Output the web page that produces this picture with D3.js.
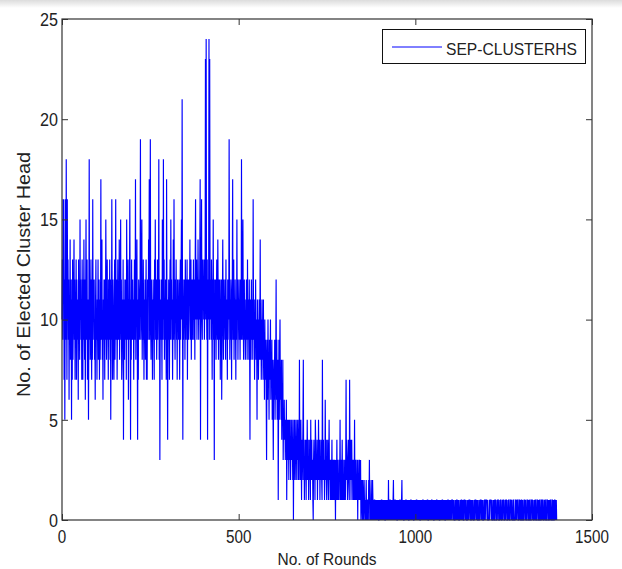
<!DOCTYPE html>
<html>
<head>
<meta charset="utf-8">
<script src="https://cdnjs.cloudflare.com/ajax/libs/d3/7.8.5/d3.min.js"></script>
<style>
  body { margin: 0; background: #fff; }
  svg { display: block; font-family: "Liberation Sans", Arial, sans-serif; }
</style>
</head>
<body>
<div id="chart"></div>
<script>
// elected cluster heads per round (one block per 100 rounds)
var heads000 = [10,13,9,16,11,16,7,12,5,11, 16,9,18,11,7,16,10,13,9,12, 6,11,9,14,8,10,12,5,11,7, 13,8,10,11,14,9,12,7,11,10,
  13,7,12,9,11,10,6,13,9,11, 8,15,10,12,9,11,7,13,10,7, 12,9,14,10,8,12,6,11,15,9, 10,13,7,11,9,5,10,18,9,12,
  8,11,13,9,7,12,8,16,10,11, 9,12,8,10,6,11,13,9,10,7];
var heads100 = [11,9,13,8,10,12,7,11,8,10, 17,9,11,14,8,10,6,11,9,12, 10,7,12,9,15,11,8,10,13,9, 11,7,12,10,9,13,8,12,5,10,
  9,16,11,7,12,10,9,7,11,13, 8,10,16,9,11,12,7,10,13,9, 11,9,14,8,10,11,15,9,12,7, 8,11,9,13,4,10,11,8,12,9,
  10,12,7,15,11,9,10,13,6,11, 9,12,16,10,4,11,8,13,9,10];
var heads200 = [12,9,11,7,10,13,9,11,17,8, 11,10,14,9,4,11,7,12,10,9, 11,12,19,9,10,12,15,8,11,9, 13,10,7,11,9,12,8,10,13,7,
  11,7,12,10,9,14,12,17,9,13, 19,10,8,12,9,11,7,10,12,9, 11,7,13,10,15,9,11,12,8,10, 13,9,11,10,18,8,12,3,10,11,
  9,12,10,7,15,11,9,18,10,13, 8,11,9,12,10,7,17,11,9,4];
var heads300 = [11,9,12,10,7,11,13,9,15,10, 12,9,11,7,10,14,9,16,11,10, 8,12,10,13,9,11,7,12,10,11, 9,12,10,7,11,13,9,12,15,10,
  21,11,4,12,9,11,10,12,8,13, 11,9,12,10,13,7,11,12,9,10, 12,11,14,9,10,13,8,12,11,9, 12,10,13,9,11,12,8,13,16,10,
  11,13,9,12,10,14,11,9,12,10, 13,17,4,11,12,16,10,9,13,11];
var heads400 = [12,10,13,9,11,12,23,10,24,11, 9,13,4,12,10,11,24,9,23,12, 10,12,9,13,11,7,12,10,15,9, 11,3,12,10,9,12,8,11,13,10,
  9,14,11,8,12,10,9,12,7,11, 10,12,6,9,11,14,10,8,12,9, 11,10,12,8,13,9,11,10,7,12, 9,11,10,19,12,8,11,9,12,10,
  7,11,12,17,9,10,13,8,11,9, 12,10,7,11,9,15,10,12,8,11];
var heads500 = [10,12,9,11,8,12,10,9,18,11, 9,12,15,10,8,11,12,9,10,8, 11,9,12,10,8,13,9,11,10,8, 12,9,4,11,10,8,12,9,10,11,
  8,16,10,9,11,7,10,9,12,8, 10,9,5,11,8,10,7,9,11,8, 9,14,8,10,7,9,11,8,10,7, 11,8,9,6,10,8,7,9,6,3,
  8,9,6,10,7,8,5,9,7,8, 10,6,8,7,9,5,8,6,3,7];
var heads600 = [8,6,9,5,7,8,12,6,9,5, 7,8,1,6,9,5,8,10,6,7, 5,8,4,6,5,8,3,5,4,6, 4,5,3,5,4,6,1,4,5,3,
  5,4,2,5,3,4,5,2,4,3, 5,3,4,2,5,0,4,3,5,2, 4,3,5,2,4,3,5,4,2,3, 5,2,8,3,4,2,5,3,1,4,
  2,3,5,8,2,4,1,3,2,4, 3,1,4,2,5,3,2,4,1,3];
var heads700 = [2,4,3,1,5,2,3,4,2,3, 1,0,3,4,2,3,1,5,4,2, 3,2,4,1,3,2,5,3,2,4, 1,3,2,4,3,2,1,8,3,2,
  4,2,3,1,2,6,3,2,4,1, 3,2,4,2,1,3,5,2,3,1, 2,3,1,2,4,1,3,2,1,3, 2,1,3,2,0,3,1,2,4,1,
  2,3,1,2,1,3,2,5,1,2, 3,1,2,4,1,2,3,1,2,1];
var heads800 = [3,2,1,3,7,2,4,3,1,2, 3,4,2,1,7,3,2,4,1,3, 4,2,3,1,2,3,1,2,5,1, 2,3,1,2,1,3,2,0,3,1,
  2,1,3,2,1,3,0,1,2,1, 0,2,1,0,1,2,1,0,1,0, 1,2,0,1,0,1,1,0,2,1, 3,0,1,0,1,2,0,1,0,2,
  1,0,1,0,1,1,0,1,0,1, 0,1,0,1,0,1,0,0,1,0];
var heads900 = [1,0,1,0,1,1,0,1,0,1, 0,1,0,1,0,0,1,0,1,0, 1,0,1,0,2,0,1,0,1,1, 0,1,0,1,0,1,0,1,2,0,
  1,0,1,1,0,1,0,1,0,0, 1,0,1,0,1,0,1,1,0,1, 0,1,2,0,1,0,1,0,0,1, 0,1,0,1,1,0,1,0,1,0,
  1,0,0,1,0,1,0,1,1,0, 1,0,1,0,1,0,0,1,0,1];
var heads1000 = [0,1,0,1,1,0,1,0,1,0, 1,0,1,0,0,1,0,1,0,1, 0,1,1,0,1,0,1,0,1,0, 1,0,1,0,1,1,0,0,1,0,
  1,0,1,0,1,0,1,1,0,1, 0,1,0,0,1,0,1,0,1,0, 1,1,0,1,0,1,0,1,0,0, 1,0,1,0,1,0,1,1,0,1,
  0,1,0,1,0,0,1,0,1,0, 1,0,1,1,0,1,0,1,0,1];
var heads1100 = [0,1,0,1,1,1,0,1,0,1, 0,0,0,1,0,1,0,1,1,0, 1,0,1,0,0,0,1,0,1,0, 1,1,0,1,0,1,0,0,1,1,
  1,0,1,0,1,0,0,0,1,0, 1,0,1,1,1,0,1,0,0,1, 0,1,0,1,0,0,0,1,0,1, 1,1,0,1,0,1,0,0,1,0,
  0,0,1,0,1,1,1,0,1,0, 1,0,0,0,1,0,1,1,0,1];
var heads1200 = [1,1,1,0,1,0,0,0,0,1, 0,1,1,1,1,0,1,0,0,0, 1,0,1,0,0,1,1,1,0,0, 0,1,0,1,1,1,0,0,0,1,
  0,1,1,0,0,0,1,0,1,1, 1,0,0,0,1,0,1,1,1,0, 0,0,1,0,1,1,0,0,0,1, 1,1,0,1,0,0,0,1,1,0,
  0,0,0,1,1,0,1,0,1,1, 1,0,0,0,1,1,0,1,0,0];
var heads1300 = [1,1,0,0,1,0,0,0,1,1, 1,0,1,0,0,0,1,1,1,0, 0,1,0,0,1,1,0,0,0,1, 1,1,0,1,0,0,0,1,0,1,
  1,0,0,0,1,1,1,0,0,1, 0,0,1,1,0,0,0,1,1,0, 1,1,0,0,0,1,0,1,1,0, 0,0,1,1,1,0,0,1,0,0,
  1,0,1,1,0,0,0,1,1,0, 0,1,0,0,1,1,0,1,0,1, 0];

var xTicks = [0, 500, 1000, 1500];
var yTicks = [0, 5, 10, 15, 20, 25];
var seriesName = "SEP-CLUSTERHS";
var xTitle = "No. of Rounds";
var yTitle = "No. of Elected Cluster Head";

var heads = [].concat(heads000, heads100, heads200, heads300, heads400, heads500, heads600,
  heads700, heads800, heads900, heads1000, heads1100, heads1200, heads1300);
var data = heads.map(function(v, i) {
  return { round: i, value: v };
});

var W = 622, H = 569;
var margin = { top: 19, right: 30, bottom: 49, left: 62 },
  width = W - margin.left - margin.right,
  height = H - margin.top - margin.bottom;
var ink = "#222";

var svg = d3.select("#chart").append("svg")
  .attr("width", W)
  .attr("height", H);

// faint grey smear along the top edge of the scan
var grad = svg.append("defs").append("linearGradient")
  .attr("id", "topfade").attr("x1", 0).attr("y1", 0).attr("x2", 0).attr("y2", 1);
grad.append("stop").attr("offset", "0%").attr("stop-color", "#dcdcdc");
grad.append("stop").attr("offset", "100%").attr("stop-color", "#ffffff");
svg.append("rect").attr("width", W).attr("height", 8).attr("fill", "url(#topfade)");

var g = svg.append("g")
  .attr("transform", "translate(" + margin.left + "," + margin.top + ")");

var x = d3.scaleLinear().domain([0, 1500]).range([0, width]);
var y = d3.scaleLinear().domain([0, 25]).range([height, 0]);

var line = d3.line()
  .x(function(d) { return x(d.round); })
  .y(function(d) { return y(d.value); });

g.append("path")
  .datum(data)
  .attr("d", line)
  .attr("fill", "none")
  .attr("stroke", "#0000ff")
  .attr("stroke-width", 1.15);

// inward ticks on all four sides, matlab style
function ticksOnly(sel) {
  sel.select(".domain").remove();
  sel.selectAll("line").attr("stroke", "#333");
  sel.selectAll("text").remove();
}
g.append("g").attr("transform", "translate(0," + height + ")")
  .call(d3.axisBottom(x).tickValues(xTicks).tickSizeInner(-6).tickSizeOuter(0)).call(ticksOnly);
g.append("g")
  .call(d3.axisTop(x).tickValues(xTicks).tickSizeInner(-6).tickSizeOuter(0)).call(ticksOnly);
g.append("g")
  .call(d3.axisLeft(y).tickValues(yTicks).tickSizeInner(-6).tickSizeOuter(0)).call(ticksOnly);
g.append("g").attr("transform", "translate(" + width + ",0)")
  .call(d3.axisRight(y).tickValues(yTicks).tickSizeInner(-6).tickSizeOuter(0)).call(ticksOnly);

g.append("rect")
  .attr("width", width)
  .attr("height", height)
  .attr("fill", "none")
  .attr("stroke", "#333")
  .attr("stroke-width", 1.2);

// tick labels, a bit narrow like the original
g.selectAll("text.xtick")
  .data(xTicks).enter()
  .append("text")
  .attr("class", "xtick")
  .attr("transform", function(d) { return "translate(" + x(d) + "," + (height + 23) + ") scale(0.8,1)"; })
  .attr("text-anchor", "middle")
  .attr("font-size", 19)
  .attr("fill", ink)
  .text(function(d) { return d; });

g.selectAll("text.ytick")
  .data(yTicks).enter()
  .append("text")
  .attr("class", "ytick")
  .attr("transform", function(d) { return "translate(-4," + y(d) + ") scale(0.85,1)"; })
  .attr("text-anchor", "end")
  .attr("dy", "0.36em")
  .attr("font-size", 19)
  .attr("fill", ink)
  .text(function(d) { return d; });

svg.append("text")
  .attr("x", margin.left + width / 2)
  .attr("y", 565)
  .attr("text-anchor", "middle")
  .attr("font-size", 17)
  .attr("textLength", 99)
  .attr("lengthAdjust", "spacingAndGlyphs")
  .attr("fill", ink)
  .text(xTitle);

svg.append("text")
  .attr("transform", "translate(30," + (margin.top + height / 2 + 5) + ") rotate(-90)")
  .attr("text-anchor", "middle")
  .attr("font-size", 19)
  .attr("textLength", 245)
  .attr("lengthAdjust", "spacingAndGlyphs")
  .attr("fill", ink)
  .text(yTitle);

// legend
var legend = svg.append("g").attr("class", "legend");
legend.append("rect")
  .attr("x", 382.5).attr("y", 29.5)
  .attr("width", 203).attr("height", 34)
  .attr("fill", "#fff")
  .attr("stroke", "#111")
  .attr("stroke-width", 1);
legend.append("line")
  .attr("x1", 392).attr("x2", 442)
  .attr("y1", 47).attr("y2", 47)
  .attr("stroke", "#0000ff")
  .attr("stroke-width", 1);
legend.append("text")
  .attr("x", 446).attr("y", 55)
  .attr("font-size", 17)
  .attr("textLength", 131)
  .attr("lengthAdjust", "spacingAndGlyphs")
  .attr("fill", ink)
  .text(seriesName);
</script>
</body>
</html>
